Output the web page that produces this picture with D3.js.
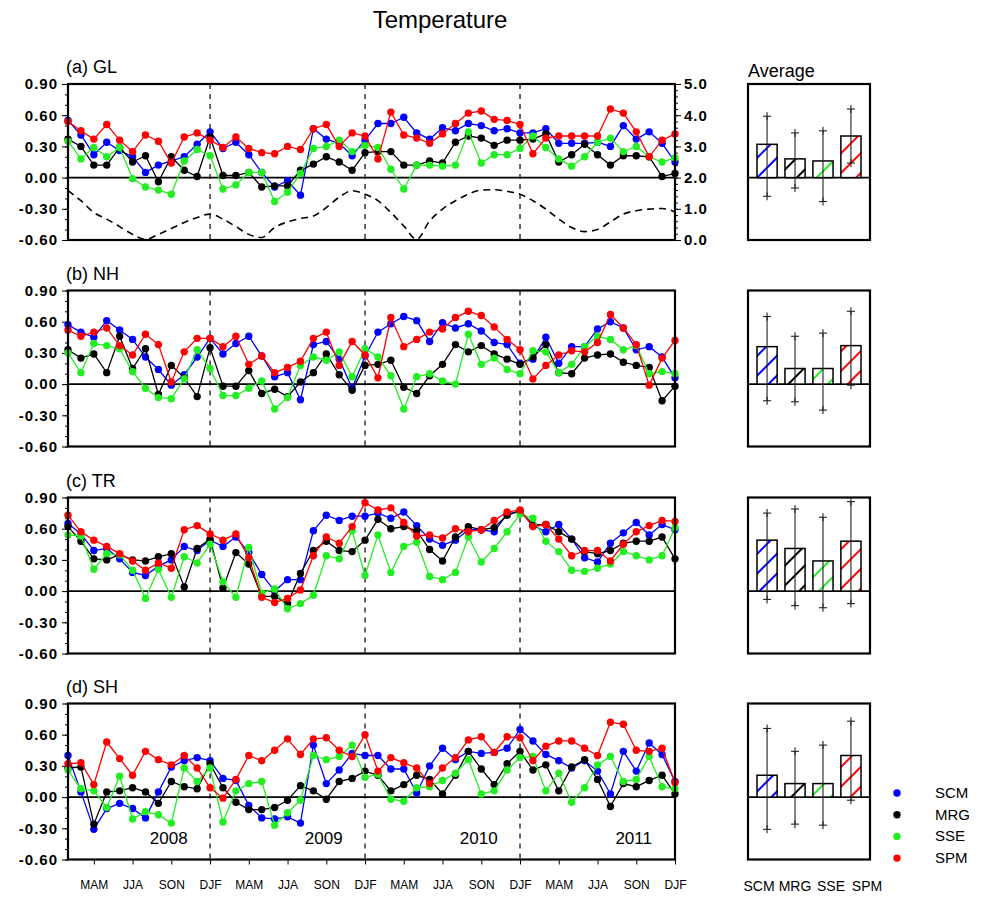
<!DOCTYPE html>
<html><head><meta charset="utf-8">
<script src="https://cdn.jsdelivr.net/npm/d3@7/dist/d3.min.js"></script>
<style>body{margin:0;background:#fff} svg{font-family:"Liberation Sans",Arial,Helvetica,sans-serif}</style>
</head><body><svg id="chart" width="981" height="899"></svg>
<script>
// ---------------- DATA ----------------
const months = d3.range(48); // Feb 2008 ... Jan 2012
const seasonTickIdx = [2,5,8,11,14,17,20,23,26,29,32,35,38,41,44,47];
const seasonLabels = ["MAM","JJA","SON","DJF","MAM","JJA","SON","DJF","MAM","JJA","SON","DJF","MAM","JJA","SON","DJF"];
const djfIdx = [11,23,35];
const years = ["2008","2009","2010","2011"];
const models = ["SCM","MRG","SSE","SPM"];
const modelColors = ["#0000ff","#000000","#22ee22","#ff0000"];
const yTicks = [0.9,0.6,0.3,0.0,-0.3,-0.6];
const rightTicks = [5,4,3,2,1,0];
const panelTitles = ["(a) GL","(b) NH","(c) TR","(d) SH"];

const gl_scm = [0.55,0.41,0.22,0.34,0.26,0.20,0.05,0.12,0.16,0.20,0.32,0.44,0.28,0.34,0.22,0.05,-0.09,-0.03,-0.17,0.47,0.37,0.33,0.21,0.36,0.52,0.52,0.58,0.43,0.37,0.48,0.45,0.52,0.50,0.45,0.47,0.43,0.43,0.47,0.33,0.33,0.33,0.34,0.30,0.50,0.37,0.44,0.33,0.15];
const gl_mrg = [0.37,0.30,0.12,0.12,0.29,0.15,0.21,-0.04,0.20,0.07,0.01,0.39,0.02,0.02,0.05,-0.09,-0.08,-0.08,0.07,0.13,0.20,0.15,0.07,0.24,0.25,0.25,0.12,0.12,0.16,0.14,0.34,0.40,0.38,0.31,0.36,0.36,0.37,0.42,0.15,0.22,0.32,0.22,0.12,0.21,0.21,0.20,0.01,0.04];
const gl_sse = [0.35,0.18,0.29,0.20,0.29,-0.01,-0.09,-0.12,-0.16,0.16,0.27,0.21,-0.11,-0.07,0.05,0.05,-0.23,-0.14,0.04,0.28,0.30,0.36,0.25,0.31,0.29,0.08,-0.11,0.12,0.12,0.11,0.12,0.44,0.14,0.22,0.22,0.28,0.40,0.29,0.18,0.11,0.20,0.34,0.38,0.25,0.30,0.20,0.15,0.19];
const gl_spm = [0.54,0.45,0.37,0.51,0.36,0.25,0.41,0.35,0.14,0.39,0.43,0.36,0.29,0.39,0.28,0.24,0.23,0.30,0.27,0.47,0.51,0.30,0.43,0.40,0.18,0.63,0.41,0.38,0.33,0.42,0.52,0.62,0.64,0.56,0.55,0.51,0.23,0.38,0.40,0.40,0.40,0.40,0.66,0.62,0.44,0.20,0.36,0.42];
const gl_ref = [1.58,1.26,0.88,0.67,0.43,0.18,0.02,0.18,0.37,0.56,0.72,0.83,0.67,0.43,0.18,0.08,0.40,0.58,0.69,0.77,1.04,1.37,1.58,1.47,1.26,0.88,0.45,0.02,0.61,0.99,1.26,1.47,1.60,1.61,1.56,1.47,1.26,0.99,0.67,0.40,0.27,0.34,0.58,0.83,0.94,0.99,1.01,0.90];

const nh_scm = [0.57,0.50,0.45,0.61,0.52,0.43,0.26,0.14,-0.01,0.09,0.26,0.44,0.29,0.39,0.46,0.27,0.07,0.11,-0.15,0.38,0.41,0.24,-0.04,0.27,0.50,0.58,0.65,0.61,0.41,0.59,0.54,0.58,0.51,0.40,0.38,0.20,0.24,0.45,0.20,0.36,0.36,0.53,0.60,0.54,0.33,0.36,0.26,0.06];
const nh_mrg = [0.33,0.25,0.29,0.11,0.46,0.15,0.34,-0.10,0.18,0.06,-0.12,0.35,-0.02,-0.02,0.13,-0.09,-0.05,-0.12,0.02,0.11,0.29,0.09,-0.06,0.18,0.19,0.23,-0.03,-0.09,0.08,0.19,0.38,0.31,0.37,0.29,0.24,0.19,0.26,0.38,0.11,0.10,0.25,0.28,0.29,0.21,0.18,0.16,-0.16,-0.02];
const nh_sse = [0.30,0.11,0.39,0.37,0.34,0.12,-0.04,-0.13,-0.14,0.05,0.33,0.15,-0.11,-0.11,-0.04,0.03,-0.24,-0.13,0.18,0.26,0.23,0.31,0.07,0.34,0.26,0.08,-0.24,0.07,0.10,0.03,0.00,0.48,0.19,0.25,0.14,0.10,0.32,0.31,0.11,0.19,0.36,0.46,0.43,0.33,0.37,0.10,0.12,0.10];
const nh_spm = [0.52,0.46,0.50,0.54,0.37,0.28,0.48,0.38,0.02,0.31,0.44,0.44,0.36,0.46,0.19,0.27,0.11,0.16,0.22,0.44,0.50,0.18,0.41,0.28,0.06,0.64,0.36,0.43,0.50,0.53,0.64,0.70,0.66,0.55,0.43,0.33,0.05,0.18,0.28,0.32,0.31,0.40,0.67,0.54,0.38,-0.01,0.25,0.42];

const tr_scm = [0.65,0.55,0.39,0.41,0.31,0.18,0.15,0.24,0.30,0.43,0.39,0.49,0.43,0.52,0.37,0.16,0.00,0.11,0.11,0.58,0.73,0.68,0.72,0.72,0.75,0.70,0.76,0.63,0.50,0.44,0.49,0.59,0.59,0.57,0.74,0.77,0.63,0.57,0.64,0.50,0.32,0.28,0.46,0.56,0.66,0.54,0.64,0.59];
const tr_mrg = [0.62,0.48,0.31,0.30,0.35,0.30,0.29,0.33,0.36,0.04,0.41,0.50,0.03,0.37,0.26,-0.05,-0.05,-0.12,0.17,0.39,0.48,0.39,0.38,0.49,0.69,0.60,0.62,0.58,0.40,0.29,0.52,0.62,0.59,0.61,0.73,0.77,0.64,0.64,0.57,0.50,0.38,0.36,0.39,0.46,0.48,0.48,0.52,0.31];
const tr_sse = [0.54,0.53,0.21,0.36,0.35,0.20,-0.07,0.21,-0.06,0.33,0.27,0.45,0.09,-0.06,0.42,-0.02,0.02,-0.17,-0.12,-0.04,0.34,0.31,0.58,0.15,0.54,0.18,0.43,0.47,0.14,0.11,0.18,0.52,0.28,0.41,0.57,0.74,0.70,0.48,0.38,0.20,0.19,0.22,0.26,0.38,0.34,0.30,0.34,0.61];
const tr_spm = [0.73,0.57,0.49,0.43,0.36,0.29,0.20,0.27,0.22,0.59,0.63,0.55,0.49,0.55,0.32,-0.06,-0.11,-0.07,0.01,0.34,0.52,0.46,0.62,0.85,0.78,0.80,0.66,0.53,0.54,0.51,0.60,0.57,0.59,0.68,0.76,0.78,0.62,0.64,0.50,0.34,0.39,0.39,0.29,0.45,0.57,0.63,0.68,0.67];

const sh_scm = [0.40,0.05,-0.31,-0.11,-0.06,-0.11,-0.20,0.05,0.29,0.35,0.38,0.35,0.18,0.16,-0.08,-0.20,-0.21,-0.19,-0.25,0.50,0.13,0.26,0.42,0.40,0.40,0.27,0.27,0.04,0.30,0.47,0.36,0.44,0.42,0.43,0.47,0.65,0.54,0.41,0.35,0.28,0.35,0.25,0.03,0.44,0.25,0.52,0.41,0.15];
const sh_mrg = [0.28,0.29,-0.26,0.05,0.06,0.09,0.05,-0.06,0.15,0.10,0.08,0.32,0.09,-0.05,-0.12,-0.12,-0.10,-0.03,0.11,0.06,-0.02,0.15,0.18,0.25,0.21,0.06,0.12,0.21,0.17,0.03,0.21,0.44,0.27,0.12,0.32,0.44,0.26,0.31,0.06,0.29,0.36,0.17,-0.09,0.13,0.10,0.16,0.21,0.03];
const sh_sse = [0.26,0.08,0.06,-0.10,0.20,-0.21,-0.14,-0.17,-0.25,0.28,0.15,0.28,-0.24,0.06,0.13,0.15,-0.27,-0.15,-0.03,0.40,0.36,0.39,0.50,0.19,0.22,-0.02,-0.04,0.09,0.10,0.16,0.23,0.36,0.03,0.06,0.26,0.38,0.39,0.06,0.23,-0.05,0.09,0.31,0.39,0.15,0.17,0.39,0.10,0.08];
const sh_spm = [0.32,0.33,0.12,0.53,0.37,0.21,0.44,0.36,0.31,0.40,0.28,0.09,-0.01,0.17,0.40,0.35,0.45,0.56,0.41,0.56,0.57,0.45,0.39,0.60,0.25,0.38,0.33,0.28,0.13,0.28,0.38,0.55,0.58,0.43,0.58,0.57,0.35,0.49,0.54,0.54,0.47,0.40,0.72,0.70,0.45,0.44,0.47,0.14];

// averages (bar = mean, whiskers = max / min)
const avg_gl = [0.32,0.18,0.16,0.40], max_gl = [0.59,0.43,0.45,0.66], min_gl = [-0.18,-0.10,-0.23,0.14];
const avg_nh = [0.36,0.15,0.15,0.37], max_nh = [0.65,0.46,0.49,0.70], min_nh = [-0.16,-0.17,-0.25,-0.01];
const avg_tr = [0.49,0.41,0.29,0.48], max_tr = [0.75,0.79,0.71,0.86], min_tr = [-0.08,-0.14,-0.16,-0.12];
const avg_sh = [0.21,0.13,0.13,0.40], max_sh = [0.66,0.44,0.50,0.73], min_sh = [-0.31,-0.26,-0.27,-0.03];

// ---------------- LAYOUT ----------------
const panelData = [
  {title: panelTitles[0], series:[gl_scm,gl_mrg,gl_sse,gl_spm], avg:avg_gl, mx:max_gl, mn:min_gl, ref:gl_ref},
  {title: panelTitles[1], series:[nh_scm,nh_mrg,nh_sse,nh_spm], avg:avg_nh, mx:max_nh, mn:min_nh},
  {title: panelTitles[2], series:[tr_scm,tr_mrg,tr_sse,tr_spm], avg:avg_tr, mx:max_tr, mn:min_tr},
  {title: panelTitles[3], series:[sh_scm,sh_mrg,sh_sse,sh_spm], avg:avg_sh, mx:max_sh, mn:min_sh}
];
const tops = [84, 290.5, 497.5, 703.5];
const ph = 156;
const x0 = 68, x1 = 675;
const bx0 = 748, bx1 = 870;

const svg = d3.select("#chart");
const x = d3.scaleLinear().domain([0,47]).range([x0,x1]);
const xb = d3.scaleBand().domain(models).range([bx0+9, bx1-9]).paddingInner(0.28).paddingOuter(0);
const xbl = d3.scalePoint().domain(models).range([759, 867]);

// hatch patterns
const defs = svg.append("defs");
modelColors.forEach((c,k)=>{
  const p = defs.append("pattern").attr("id","hatch"+k).attr("patternUnits","userSpaceOnUse")
    .attr("width",14).attr("height",14).attr("patternTransform","rotate(45)");
  p.append("rect").attr("width",14).attr("height",14).attr("fill","#fff");
  p.append("line").attr("x1",3).attr("y1",-1).attr("x2",3).attr("y2",15).attr("stroke",c).attr("stroke-width",2);
});

svg.append("text").attr("x",440).attr("y",28).attr("text-anchor","middle")
  .attr("font-size",24).text("Temperature");

const fmt2 = d => d.toFixed(2);
const fmt1 = d => d.toFixed(1);

panelData.forEach((pd, pi) => {
  const top = tops[pi], bot = top + ph;
  const y = d3.scaleLinear().domain([-0.6,0.9]).range([bot, top]);
  const g = svg.append("g");

  // panel label
  g.append("text").attr("x",66).attr("y",top-11).attr("font-size",18).text(pd.title);

  // left axis (minor + major)
  g.append("g").attr("transform",`translate(${x0},0)`)
    .call(d3.axisLeft(y).tickValues(d3.range(-6,10).map(v=>v/10)).tickSize(3).tickFormat(""))
    .call(a=>a.select(".domain").remove());
  const ax = g.append("g").attr("transform",`translate(${x0},0)`)
    .call(d3.axisLeft(y).tickValues(yTicks).tickSize(6).tickPadding(4).tickFormat(fmt2));
  ax.select(".domain").remove();
  ax.selectAll("text").attr("font-size",15).attr("font-weight","bold").attr("letter-spacing",1).attr("fill","#000");

  // right axis for panel (a)
  if (pd.ref) {
    const yr = d3.scaleLinear().domain([0,5]).range([bot, top]);
    g.append("g").attr("transform",`translate(${x1},0)`)
      .call(d3.axisRight(yr).tickValues(d3.range(0,26).map(v=>v/5)).tickSize(3).tickFormat(""))
      .call(a=>a.select(".domain").remove());
    const ar = g.append("g").attr("transform",`translate(${x1},0)`)
      .call(d3.axisRight(yr).tickValues(rightTicks).tickSize(6).tickPadding(3).tickFormat(fmt1));
    ar.select(".domain").remove();
    ar.selectAll("text").attr("font-size",15).attr("font-weight","bold").attr("letter-spacing",1).attr("fill","#000");
    g.append("path").datum(pd.ref)
      .attr("fill","none").attr("stroke","#000").attr("stroke-width",1.6).attr("stroke-dasharray","7,5")
      .attr("d", d3.line().x((d,i)=>x(months[i])).y(d=>yr(d)).curve(d3.curveMonotoneX));
  }

  // bottom axis for panel (d)
  if (pi === 3) {
    const axb = g.append("g").attr("transform",`translate(0,${bot})`)
      .call(d3.axisBottom(x).tickValues(seasonTickIdx).tickSize(5).tickPadding(16)
        .tickFormat((d,i)=>seasonLabels[i]));
    axb.select(".domain").remove();
    axb.selectAll("text").attr("font-size",12).attr("fill","#000");
    g.selectAll(".yr").data(years).enter().append("text")
      .attr("x",(d,i)=>x(7.8+12*i)).attr("y",bot-16).attr("text-anchor","middle")
      .attr("font-size",17).text(d=>d);
  }

  // dashed season separators
  g.selectAll(".djf").data(djfIdx).enter().append("line")
    .attr("x1",d=>x(d)).attr("x2",d=>x(d)).attr("y1",top).attr("y2",bot)
    .attr("stroke","#000").attr("stroke-width",1.2).attr("stroke-dasharray","5,5");

  // zero line
  g.append("line").attr("x1",x0).attr("x2",x1).attr("y1",y(0)).attr("y2",y(0))
    .attr("stroke","#000").attr("stroke-width",1.6);

  // series
  pd.series.forEach((s,k)=>{
    g.append("path").datum(s).attr("fill","none").attr("stroke",modelColors[k]).attr("stroke-width",1.3)
      .attr("d", d3.line().x((d,i)=>x(months[i])).y(d=>y(d)));
    g.selectAll(".m"+k).data(s).enter().append("circle")
      .attr("cx",(d,i)=>x(months[i])).attr("cy",d=>y(d)).attr("r",3.7).attr("fill",modelColors[k]);
  });

  // frame
  g.append("rect").attr("x",x0).attr("y",top).attr("width",x1-x0).attr("height",ph)
    .attr("fill","none").attr("stroke","#000").attr("stroke-width",2.2);

  // bar panel
  const gb = svg.append("g");
  if (pi===0) gb.append("text").attr("x",bx0).attr("y",top-7).attr("font-size",18).text("Average");
  gb.append("line").attr("x1",bx0).attr("x2",bx1).attr("y1",y(0)).attr("y2",y(0))
    .attr("stroke","#000").attr("stroke-width",1.6);
  models.forEach((m,k)=>{
    const v = pd.avg[k];
    gb.append("rect").attr("x",xb(m)).attr("width",xb.bandwidth())
      .attr("y",y(Math.max(0,v))).attr("height",Math.abs(y(v)-y(0)))
      .attr("fill",`url(#hatch${k})`).attr("stroke","#000").attr("stroke-width",1.5);
    const cx = xb(m)+xb.bandwidth()/2;
    gb.append("line").attr("x1",cx).attr("x2",cx).attr("y1",y(pd.mx[k])).attr("y2",y(pd.mn[k]))
      .attr("stroke","#222").attr("stroke-width",1.1);
    [pd.mx[k], pd.mn[k]].forEach(v2=>{
      gb.append("line").attr("x1",cx-4).attr("x2",cx+4).attr("y1",y(v2)).attr("y2",y(v2)).attr("stroke","#222").attr("stroke-width",1.1);
      gb.append("line").attr("x1",cx).attr("x2",cx).attr("y1",y(v2)-4).attr("y2",y(v2)+4).attr("stroke","#222").attr("stroke-width",1.1);
    });
  });
  gb.append("rect").attr("x",bx0).attr("y",top).attr("width",bx1-bx0).attr("height",ph)
    .attr("fill","none").attr("stroke","#000").attr("stroke-width",2.2);
  if (pi===3) {
    gb.selectAll(".bl").data(models).enter().append("text")
      .attr("x",d=>xbl(d)).attr("y",bot+31).attr("text-anchor","middle")
      .attr("font-size",14).text(d=>d);
  }
});

// legend
const lg = svg.append("g");
models.forEach((m,k)=>{
  const yy = 793 + k*21.7;
  lg.append("circle").attr("cx",897).attr("cy",yy).attr("r",3.7).attr("fill",modelColors[k]);
  lg.append("text").attr("x",935).attr("y",yy+5).attr("font-size",15).text(m);
});
</script></body></html>
